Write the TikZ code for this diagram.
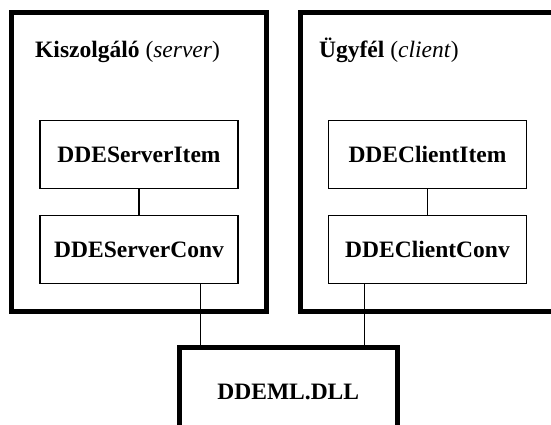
\documentclass[tikz,border=0pt]{standalone}
\usepackage{fontspec}
\setmainfont{Liberation Serif}
\usetikzlibrary{positioning}

\begin{document}
\begin{tikzpicture}[
    x=1pt, y=-1pt,
    node distance = 26pt,
    font={\fontsize{23.5}{28}\selectfont\bfseries},
    frame/.style={draw,line width=5pt,inner sep=0pt},
    item/.style={draw,line width=1.3pt,inner sep=0pt,minimum width=198pt,minimum height=68pt},
    title/.style={anchor=base west,inner sep=0pt},
    link/.style={line width=1.3pt},
]
    \clip (0,0) rectangle (551,425);

    % Frames
    \node[frame,minimum width=254.5pt,minimum height=299pt] (server) at (138.75,162) {};
    \node[frame,minimum width=319.5pt,minimum height=299pt] (client) at (460.25,162) {};
    \node[frame,anchor=north,minimum width=218.5pt,text height=52pt,text depth=80pt] (dll) at (288.25,345) {DDEML.DLL};

    % Titles
    \node[title] (servertitle) at (35,58) {Kiszolgáló {\mdseries(\textit{server})}};
    \node[title] (clienttitle) at (319,58) {Ügyfél {\mdseries(\textit{client})}};

    % Objects
    \node[item] (serveritem) at (139,154.5) {DDEServerItem};
    \node[item,below=26pt of serveritem] (serverconv) {DDEServerConv};
    \node[item] (clientitem) at (427.5,154.5) {DDEClientItem};
    \node[item,below=26pt of clientitem] (clientconv) {DDEClientConv};

    % Links
    \draw[link] (serveritem) -- (serverconv);
    \draw[link] (clientitem) -- (clientconv);
    \path (serverconv.south east) ++(-38pt,0) coordinate (sdown);
    \path (clientconv.south west) ++(36.5pt,0) coordinate (cdown);
    \draw[link] (sdown) -- (sdown |- dll.north);
    \draw[link] (cdown) -- (cdown |- dll.north);

\end{tikzpicture}
\end{document}
